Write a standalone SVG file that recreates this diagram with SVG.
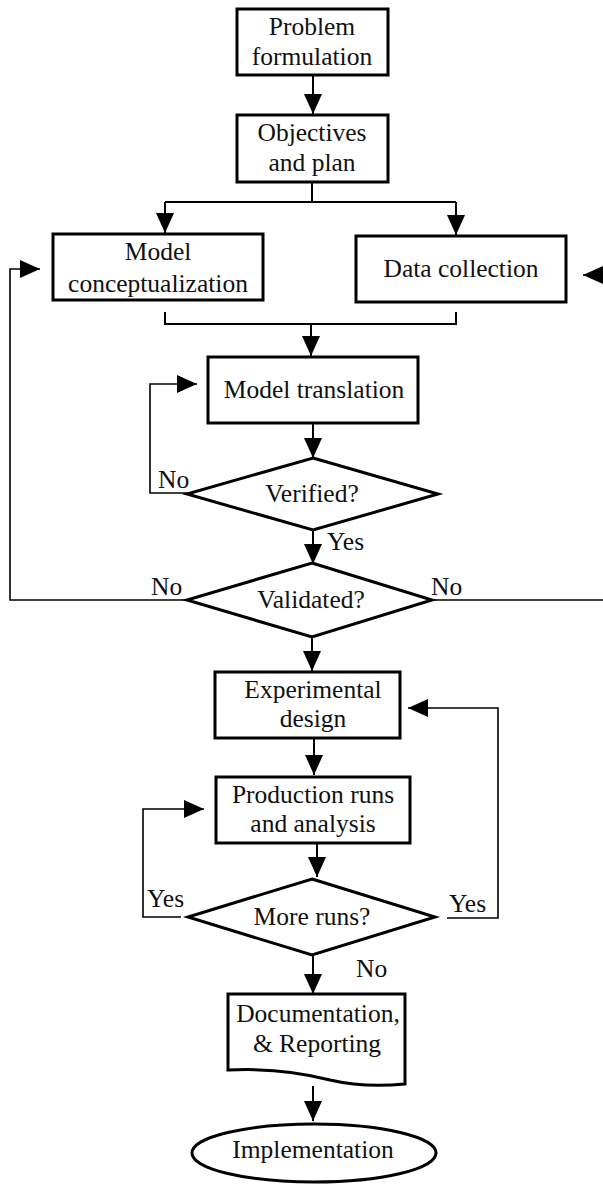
<svg xmlns="http://www.w3.org/2000/svg" width="603" height="1184" viewBox="0 0 603 1184">
<style>
.box{fill:#fff;stroke:#000;stroke-width:3}
.t{font-family:"Liberation Serif","Times New Roman",serif;font-size:25.5px;fill:#111;text-anchor:middle}
.lb{font-family:"Liberation Serif","Times New Roman",serif;font-size:25.5px;fill:#111}
.c{fill:none;stroke:#000;stroke-width:2}
.f{fill:none;stroke:#000;stroke-width:1.6}
</style>
<defs>
<marker id="ah" markerUnits="userSpaceOnUse" markerWidth="20" markerHeight="18" refX="20" refY="9" orient="auto"><path d="M0,0 L20,9 L0,18 Z" fill="#000"/></marker>
</defs>
<rect width="603" height="1184" fill="#fff"/>
<g id="connectors">
<line class="c" x1="313" y1="75" x2="313" y2="114" marker-end="url(#ah)"/>
<path class="c" d="M312,182 V202 M165,202 H456"/>
<line class="c" x1="165" y1="202" x2="165" y2="233" marker-end="url(#ah)"/>
<line class="c" x1="456" y1="202" x2="456" y2="235" marker-end="url(#ah)"/>
<path class="c" d="M165,312 V324 H456 V312"/>
<line class="c" x1="311" y1="324" x2="311" y2="356" marker-end="url(#ah)"/>
<line class="c" x1="313" y1="423" x2="313" y2="458" marker-end="url(#ah)"/>
<path class="f" d="M187,493 H150 V384 H197" marker-end="url(#ah)"/>
<line class="c" x1="313" y1="530" x2="313" y2="564" marker-end="url(#ah)"/>
<path class="f" d="M187,600 H10 V269 H40" marker-end="url(#ah)"/>
<path class="f" d="M432,600 H606 V275 H583" marker-end="url(#ah)"/>
<line class="c" x1="312" y1="637" x2="312" y2="671" marker-end="url(#ah)"/>
<line class="c" x1="314" y1="738" x2="314" y2="775" marker-end="url(#ah)"/>
<line class="c" x1="317" y1="843" x2="317" y2="877" marker-end="url(#ah)"/>
<path class="f" d="M181,917 H143 V809 H204" marker-end="url(#ah)"/>
<path class="f" d="M447,918 H498 V708 H408" marker-end="url(#ah)"/>
<line class="c" x1="313" y1="955" x2="313" y2="994" marker-end="url(#ah)"/>
<line class="c" x1="313" y1="1086" x2="313" y2="1121" marker-end="url(#ah)"/>
</g>
<g id="problem"><rect class="box" x="237" y="9" width="151" height="66"/><text class="t" x="312" y="35">Problem</text><text class="t" x="312" y="65">formulation</text></g>
<g id="objectives"><rect class="box" x="237" y="115" width="151" height="67"/><text class="t" x="312" y="141">Objectives</text><text class="t" x="312" y="171">and plan</text></g>
<g id="conceptualization"><rect class="box" x="53" y="234" width="210" height="66"/><text class="t" x="158" y="260">Model</text><text class="t" x="158" y="292">conceptualization</text></g>
<g id="datacollection"><rect class="box" x="356" y="236" width="210" height="66"/><text class="t" x="461" y="277">Data collection</text></g>
<g id="translation"><rect class="box" x="208" y="357" width="210" height="66"/><text class="t" x="314" y="398">Model translation</text></g>
<g id="verified"><polygon class="box" points="313,458 438,494 313,530 187,494"/><text class="t" x="312" y="502">Verified?</text></g>
<g id="validated"><polygon class="box" points="312,563 432,600 312,637 187,600"/><text class="t" x="311" y="608">Validated?</text></g>
<g id="experimental"><rect class="box" x="215" y="672" width="185" height="66"/><text class="t" x="313" y="698">Experimental</text><text class="t" x="313" y="727">design</text></g>
<g id="production"><rect class="box" x="216" y="777" width="194" height="66"/><text class="t" x="313" y="803">Production runs</text><text class="t" x="313" y="832">and analysis</text></g>
<g id="moreruns"><polygon class="box" points="312,879 435,917 312,955 188,917"/><text class="t" x="312" y="925">More runs?</text></g>
<g id="documentation"><path class="box" d="M228,994 H405 V1084 C385,1086 360,1087 330,1080 C300,1072 270,1068 228,1070 Z"/><text class="t" x="318" y="1022">Documentation,</text><text class="t" x="317" y="1052">&amp; Reporting</text></g>
<g id="implementation"><ellipse class="box" cx="314" cy="1153" rx="122" ry="29"/><text class="t" x="313" y="1158">Implementation</text></g>
<g id="labels">
<text class="lb" x="158" y="488">No</text>
<text class="lb" x="327" y="550">Yes</text>
<text class="lb" x="151" y="595">No</text>
<text class="lb" x="431" y="595">No</text>
<text class="lb" x="147" y="907">Yes</text>
<text class="lb" x="449" y="912">Yes</text>
<text class="lb" x="356" y="977">No</text>
</g>
</svg>
